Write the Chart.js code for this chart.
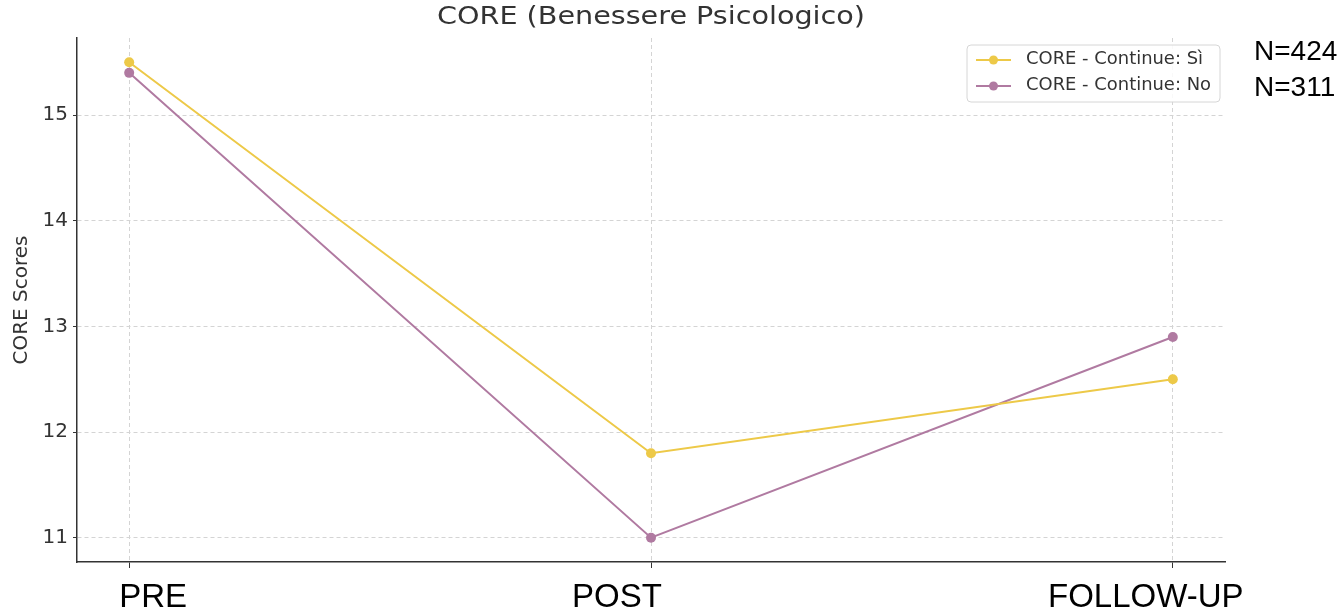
<!DOCTYPE html>
<html>
<head>
<meta charset="utf-8">
<script src="https://cdn.jsdelivr.net/npm/chart.js@4"></script>
<style>
  body { margin: 0; background: #fff; }
  #wrap { position: relative; width: 1343px; height: 611px; }
</style>
</head>
<body>
<div id="wrap"><canvas id="coreChart"></canvas></div>
<script>
// ---- data ----
const phases = ["PRE", "POST", "FOLLOW-UP"];
const continueSi = [15.5, 11.8, 12.5];
const continueNo = [15.4, 11.0, 12.9];
const seriesNames = ["CORE - Continue: Sì", "CORE - Continue: No"];
const sampleSizes = ["N=424", "N=311"];
const yTicks = [11, 12, 13, 14, 15];

const colors = ["#edc948", "#b07aa1"];
// the big phase labels sit a bit off their ticks in the original
const phaseShift = [24, -34, -27];

function toPoints(arr) {
  return arr.map((v, i) => ({ x: i, y: v }));
}

// title, legend, phase labels and N labels drawn on top
const overlay = {
  id: "overlay",
  afterDraw(chart) {
    const ctx = chart.ctx;
    const area = chart.chartArea;
    const xs = chart.scales.x;

    // title, a little stretched like the original
    ctx.save();
    ctx.font = "24px 'DejaVu Sans'";
    ctx.fillStyle = "#333";
    ctx.textBaseline = "middle";
    ctx.textAlign = "center";
    const title = "CORE (Benessere Psicologico)";
    const tw = ctx.measureText(title).width;
    ctx.translate((area.left + area.right) / 2, 18);
    ctx.scale(428 / tw, 1);
    ctx.fillText(title, 0, 0);
    ctx.restore();

    // legend box
    ctx.save();
    const bx = 967, by = 45, bw = 253, bh = 57;
    ctx.beginPath();
    ctx.roundRect(bx, by, bw, bh, 4);
    ctx.fillStyle = "rgba(255,255,255,0.85)";
    ctx.fill();
    ctx.strokeStyle = "#d6d6d6";
    ctx.lineWidth = 1;
    ctx.stroke();
    ctx.font = "17px 'DejaVu Sans'";
    ctx.textBaseline = "middle";
    seriesNames.forEach((name, i) => {
      const y = 60 + i * 26;
      ctx.strokeStyle = colors[i];
      ctx.lineWidth = 2;
      ctx.beginPath();
      ctx.moveTo(976, y);
      ctx.lineTo(1011, y);
      ctx.stroke();
      ctx.fillStyle = colors[i];
      ctx.beginPath();
      ctx.arc(993.5, y, 4.5, 0, Math.PI * 2);
      ctx.fill();
      ctx.fillStyle = "#333";
      const w = ctx.measureText(seriesNames[0]).width;
      ctx.save();
      ctx.translate(1026, y);
      ctx.scale(177 / w, 1);
      ctx.fillText(name, 0, 0);
      ctx.restore();
    });
    ctx.restore();

    // phase labels under the axis
    ctx.save();
    ctx.font = "33px 'Liberation Sans'";
    ctx.fillStyle = "#000";
    ctx.textAlign = "center";
    ctx.textBaseline = "alphabetic";
    phases.forEach((p, i) => {
      ctx.fillText(p, xs.getPixelForValue(i) + phaseShift[i], 607);
    });
    ctx.restore();

    // sample sizes on the right
    ctx.save();
    ctx.font = "28px 'Liberation Sans'";
    ctx.fillStyle = "#000";
    ctx.textBaseline = "alphabetic";
    sampleSizes.forEach((s, i) => {
      ctx.fillText(s, 1254, 60 + i * 36);
    });
    ctx.restore();
  }
};

new Chart(document.getElementById("coreChart"), {
  type: "line",
  data: {
    datasets: [
      {
        label: seriesNames[0],
        data: toPoints(continueSi),
        borderColor: colors[0],
        backgroundColor: colors[0],
        borderWidth: 2,
        pointRadius: 5,
        pointBorderWidth: 0,
        tension: 0
      },
      {
        label: seriesNames[1],
        data: toPoints(continueNo),
        borderColor: colors[1],
        backgroundColor: colors[1],
        borderWidth: 2,
        pointRadius: 5,
        pointBorderWidth: 0,
        tension: 0
      }
    ]
  },
  options: {
    responsive: true,
    maintainAspectRatio: false,
    animation: false,
    layout: { padding: { top: 38, right: 118, left: 0, bottom: 0 } },
    plugins: {
      legend: { display: false },
      tooltip: { enabled: false },
      title: { display: false }
    },
    scales: {
      x: {
        type: "linear",
        min: -0.1,
        max: 2.1,
        afterFit: (s) => { s.height = 49; },
        afterBuildTicks: (s) => { s.ticks = phases.map((_, i) => ({ value: i })); },
        ticks: {
          display: false,
          stepSize: 1,
          includeBounds: false
        },
        grid: {
          color: "#d4d4d4",
          lineWidth: 1,
          tickColor: "#333",
          tickLength: 6,
          tickBorderDash: []
        },
        border: { color: "#333", width: 1.5, dash: [4, 3] }
      },
      y: {
        min: 10.77,
        max: 15.73,
        afterFit: (s) => { s.width = 77; },
        afterBuildTicks: (s) => { s.ticks = yTicks.map((v) => ({ value: v })); },
        ticks: {
          stepSize: 1,
          includeBounds: false,
          color: "#333",
          font: { family: "'DejaVu Sans'", size: 20 },
          padding: 5
        },
        grid: {
          color: "#d4d4d4",
          lineWidth: 1,
          tickColor: "#333",
          tickLength: 4,
          tickBorderDash: []
        },
        border: { color: "#333", width: 1.5, dash: [4, 3] },
        title: {
          display: true,
          text: "CORE Scores",
          color: "#333",
          font: { family: "'DejaVu Sans'", size: 20 },
          padding: { top: 10, bottom: 0 }
        }
      }
    }
  },
  plugins: [overlay]
});
</script>
</body>
</html>
